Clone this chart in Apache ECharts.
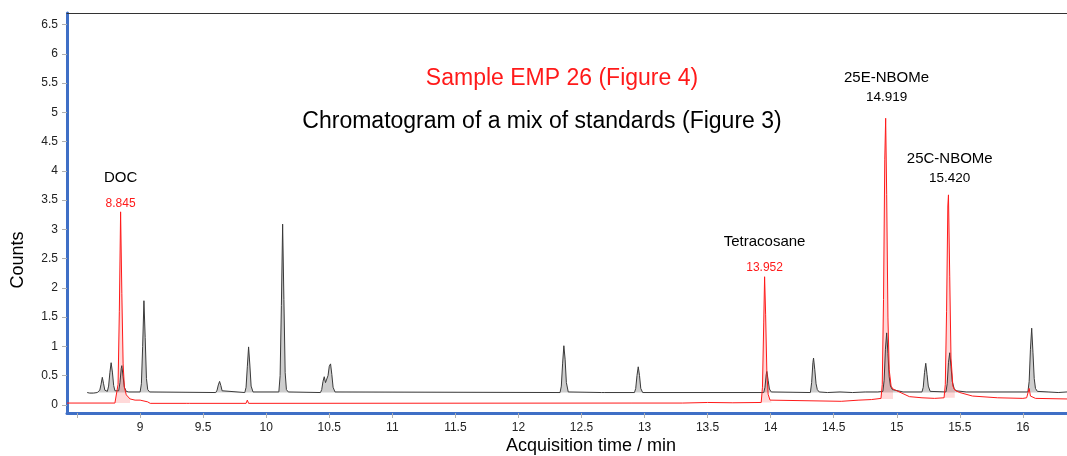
<!DOCTYPE html>
<html>
<head>
<meta charset="utf-8">
<script src="https://cdn.jsdelivr.net/npm/echarts@6/dist/echarts.min.js"></script>
<style>
html,body{margin:0;padding:0;background:#fff;}
#chart{width:1067px;height:456px;}
</style>
</head>
<body>
<div id="chart"></div>
<script>
// ---- Data ----
// Chromatogram of a mix of standards (black), [time(min), counts]
const standardsTrace = [
  [8.58,0.21],[8.60,0.20],[8.61,0.21],[8.63,0.20],[8.66,0.21],
  [8.67,0.21],[8.68,0.25],[8.69,0.35],[8.70,0.47],[8.71,0.36],[8.72,0.25],[8.73,0.22],
  [8.74,0.23],[8.75,0.32],[8.76,0.55],[8.77,0.72],[8.78,0.56],[8.79,0.33],[8.80,0.24],[8.815,0.22],
  [8.83,0.24],[8.84,0.38],[8.85,0.62],[8.855,0.67],[8.865,0.48],[8.875,0.30],[8.89,0.23],[8.91,0.22],
  [9.00,0.22],[9.01,0.36],[9.02,1.00],[9.03,1.78],[9.04,1.15],[9.05,0.45],[9.06,0.26],[9.075,0.22],
  [9.60,0.21],[9.61,0.25],[9.62,0.34],[9.63,0.40],[9.64,0.33],[9.65,0.24],[9.665,0.21],
  [9.83,0.21],[9.84,0.30],[9.85,0.65],[9.86,0.99],[9.87,0.68],[9.88,0.32],[9.895,0.22],
  [10.10,0.22],[10.11,0.50],[10.12,1.70],[10.13,3.09],[10.14,1.80],[10.15,0.55],[10.16,0.26],[10.175,0.22],
  [10.43,0.21],[10.44,0.26],[10.45,0.40],[10.46,0.48],[10.47,0.38],[10.48,0.36],[10.49,0.50],[10.50,0.66],[10.51,0.70],[10.52,0.52],[10.53,0.30],[10.545,0.22],
  [12.33,0.21],[12.34,0.32],[12.35,0.70],[12.36,1.01],[12.37,0.78],[12.38,0.38],[12.395,0.22],
  [12.66,0.21],[12.67,0.23],[12.68,0.21],
  [12.92,0.21],[12.93,0.28],[12.94,0.50],[12.95,0.65],[12.96,0.50],[12.97,0.28],[12.985,0.21],
  [13.945,0.21],[13.955,0.30],[13.965,0.52],[13.97,0.57],[13.98,0.42],[13.99,0.27],[14.005,0.22],
  [14.315,0.21],[14.325,0.38],[14.335,0.72],[14.34,0.80],[14.35,0.60],[14.36,0.36],[14.37,0.26],[14.385,0.22],
  [14.45,0.21],[14.55,0.22],[14.65,0.21],[14.75,0.22],[14.85,0.22],
  [14.89,0.23],[14.90,0.42],[14.91,0.95],[14.92,1.23],[14.93,0.88],[14.94,0.48],[14.95,0.32],[14.965,0.26],[14.98,0.24],[15.05,0.22],
  [15.20,0.22],[15.21,0.30],[15.22,0.55],[15.23,0.71],[15.24,0.52],[15.25,0.32],[15.265,0.23],
  [15.39,0.22],[15.40,0.36],[15.41,0.72],[15.42,0.89],[15.43,0.66],[15.44,0.40],[15.455,0.28],[15.47,0.24],[15.55,0.22],
  [16.04,0.22],[16.05,0.40],[16.06,0.95],[16.07,1.31],[16.08,0.90],[16.09,0.45],[16.10,0.28],[16.115,0.23],
  [16.20,0.22],[16.28,0.21],[16.35,0.22]
];
// Sample EMP 26 (red), [time(min), counts]
const sampleTrace = [
  [8.42,0.03],[8.80,0.03],[8.815,0.06],[8.825,0.35],[8.835,1.60],[8.845,3.30],[8.855,1.90],[8.865,0.70],
  [8.875,0.30],[8.89,0.17],[8.92,0.10],[8.96,0.08],[9.00,0.08],[9.06,0.05],[9.08,0.025],
  [9.37,0.025],[9.38,0.04],[9.39,0.025],[9.84,0.025],[9.85,0.08],[9.86,0.025],
  [12.90,0.03],[13.30,0.03],[13.50,0.04],[13.70,0.035],[13.925,0.04],
  [13.935,0.30],[13.945,1.40],[13.952,2.19],[13.96,1.55],[13.97,0.55],[13.98,0.18],[13.995,0.08],[14.01,0.06],
  [14.56,0.06],[14.57,0.09],[14.70,0.08],[14.80,0.09],[14.875,0.11],
  [14.885,0.35],[14.895,1.80],[14.905,4.20],[14.912,4.90],[14.92,3.60],[14.93,1.50],[14.94,0.60],[14.955,0.32],[14.97,0.27],
  [15.00,0.24],[15.05,0.19],[15.10,0.14],[15.20,0.12],[15.30,0.11],[15.375,0.12],
  [15.385,0.35],[15.395,1.60],[15.405,3.40],[15.41,3.59],[15.42,2.20],[15.43,0.80],[15.445,0.32],[15.46,0.25],[15.50,0.21],
  [15.60,0.15],[15.80,0.12],[16.00,0.11],[16.03,0.12],[16.05,0.28],[16.06,0.15],[16.10,0.11],[16.35,0.10]
];
// integration windows of the sample peaks: [start, end, baseline]
const samplePeakWindows = [[8.80,8.95,0.03],[13.925,14.01,0.04],[14.875,14.97,0.10],[15.375,15.46,0.12]];
const standardsBaseline = 0.21;

// Peak annotations
const peakNames = ['DOC','Tetracosane','25E-NBOMe','25C-NBOMe'];
const peakTimes = [8.845, 13.952, 14.919, 15.420];
const peakTimeLabels = ['8.845','13.952','14.919','15.420'];
const peakApex = [3.30, 2.19, 4.90, 3.59];

// Axis ticks
const xTickValues = [8.5,9,9.5,10,10.5,11,11.5,12,12.5,13,13.5,14,14.5,15,15.5,16];
const xLabelValues = [9,9.5,10,10.5,11,11.5,12,12.5,13,13.5,14,14.5,15,15.5,16];
const yTickValues = [0,0.5,1,1.5,2,2.5,3,3.5,4,4.5,5,5.5,6,6.5];

// ---- Styles ----
const FONT = '"Liberation Sans", Arial, sans-serif';
const BLUE = '#3f6fc6';
const rtColorStyle = ['red','red','black','black'];
const labelGap = [1, 2, 14, 10];
const nameLineHeight = [38, 38, 24, 24];

const chart = echarts.init(document.getElementById('chart'), null, {renderer:'canvas'});

const redFillSeries = samplePeakWindows.map(w => ({
  type:'line', xAxisIndex:0, yAxisIndex:0,
  data: sampleTrace.filter(p => p[0] >= w[0] && p[0] <= w[1]),
  symbol:'none', silent:true, z:2,
  lineStyle:{width:0},
  areaStyle:{color:'rgba(255,60,60,0.28)', origin:w[2]}
}));

const annotationData = peakNames.map((n,i) => ({
  value:[peakTimes[i], peakApex[i]],
  label:{
    distance: labelGap[i],
    formatter: '{n|' + n + '}\n{' + (rtColorStyle[i]==='red' ? 'tr' : 'tb') + '|' + peakTimeLabels[i] + '}',
    rich:{
      n:{fontFamily:FONT, fontSize:15, color:'#000', lineHeight:nameLineHeight[i], align:'center'},
      tr:{fontFamily:FONT, fontSize:12, color:'#ff1a1a', lineHeight:14, align:'center'},
      tb:{fontFamily:FONT, fontSize:13.5, color:'#000', lineHeight:14, align:'center'}
    }
  }
}));

const option = {
  animation:false,
  backgroundColor:'#fff',
  grid:{left:67, right:0, top:13, bottom:43, containLabel:false},
  xAxis:[{
    type:'value', min:8.42, max:16.35, position:'bottom',
    axisLine:{show:true, onZero:false, lineStyle:{color:BLUE, width:3}},
    axisTick:{show:true, customValues:xTickValues, length:5, lineStyle:{color:'#b0b0b0'}},
    axisLabel:{customValues:xLabelValues, margin:9, fontFamily:FONT, fontSize:12, color:'#222'},
    splitLine:{show:false}
  },{
    type:'value', min:8.42, max:16.35, position:'top',
    axisLine:{show:true, onZero:false, lineStyle:{color:'#333', width:1.2}},
    axisTick:{show:false}, axisLabel:{show:false}, splitLine:{show:false}
  }],
  yAxis:{
    type:'value', min:-0.14, max:6.7,
    axisLine:{show:true, onZero:false, lineStyle:{color:BLUE, width:3}},
    axisTick:{show:true, customValues:yTickValues, length:5, lineStyle:{color:'#b0b0b0'}},
    axisLabel:{customValues:yTickValues, margin:9, fontFamily:FONT, fontSize:12, color:'#222'},
    splitLine:{show:false}
  },
  graphic:[
    {type:'text', x:562, y:79, silent:true,
     style:{text:'Sample EMP 26 (Figure 4)', fill:'#ff1a1a', font:'23px ' + FONT, textAlign:'center', textVerticalAlign:'middle'}},
    {type:'text', x:542, y:122, silent:true,
     style:{text:'Chromatogram of a mix of standards (Figure 3)', fill:'#000', font:'23px ' + FONT, textAlign:'center', textVerticalAlign:'middle'}},
    {type:'text', x:591, y:446, silent:true,
     style:{text:'Acquisition time / min', fill:'#000', font:'18px ' + FONT, textAlign:'center', textVerticalAlign:'middle'}},
    {type:'text', x:18, y:260, rotation:Math.PI/2, silent:true,
     style:{text:'Counts', fill:'#000', font:'18px ' + FONT, textAlign:'center', textVerticalAlign:'middle'}}
  ],
  series:[
    {
      type:'line', name:'standards fill', data:standardsTrace, symbol:'none', silent:true, z:1,
      lineStyle:{width:0},
      areaStyle:{color:'rgba(70,70,70,0.38)', origin:standardsBaseline}
    },
    ...redFillSeries,
    {
      type:'line', name:'Chromatogram of a mix of standards (Figure 3)', data:standardsTrace,
      symbol:'none', z:4, lineStyle:{color:'#3a3a3a', width:1}
    },
    {
      type:'line', name:'Sample EMP 26 (Figure 4)', data:sampleTrace,
      symbol:'none', z:5, lineStyle:{color:'#ff1a1a', width:1}
    },
    {
      type:'scatter', name:'annotations', data:annotationData, symbolSize:0, silent:true, z:6,
      itemStyle:{opacity:1},
      label:{show:true, position:'top', opacity:1, color:'#000'}
    }
  ]
};
chart.setOption(option);
</script>
</body>
</html>
